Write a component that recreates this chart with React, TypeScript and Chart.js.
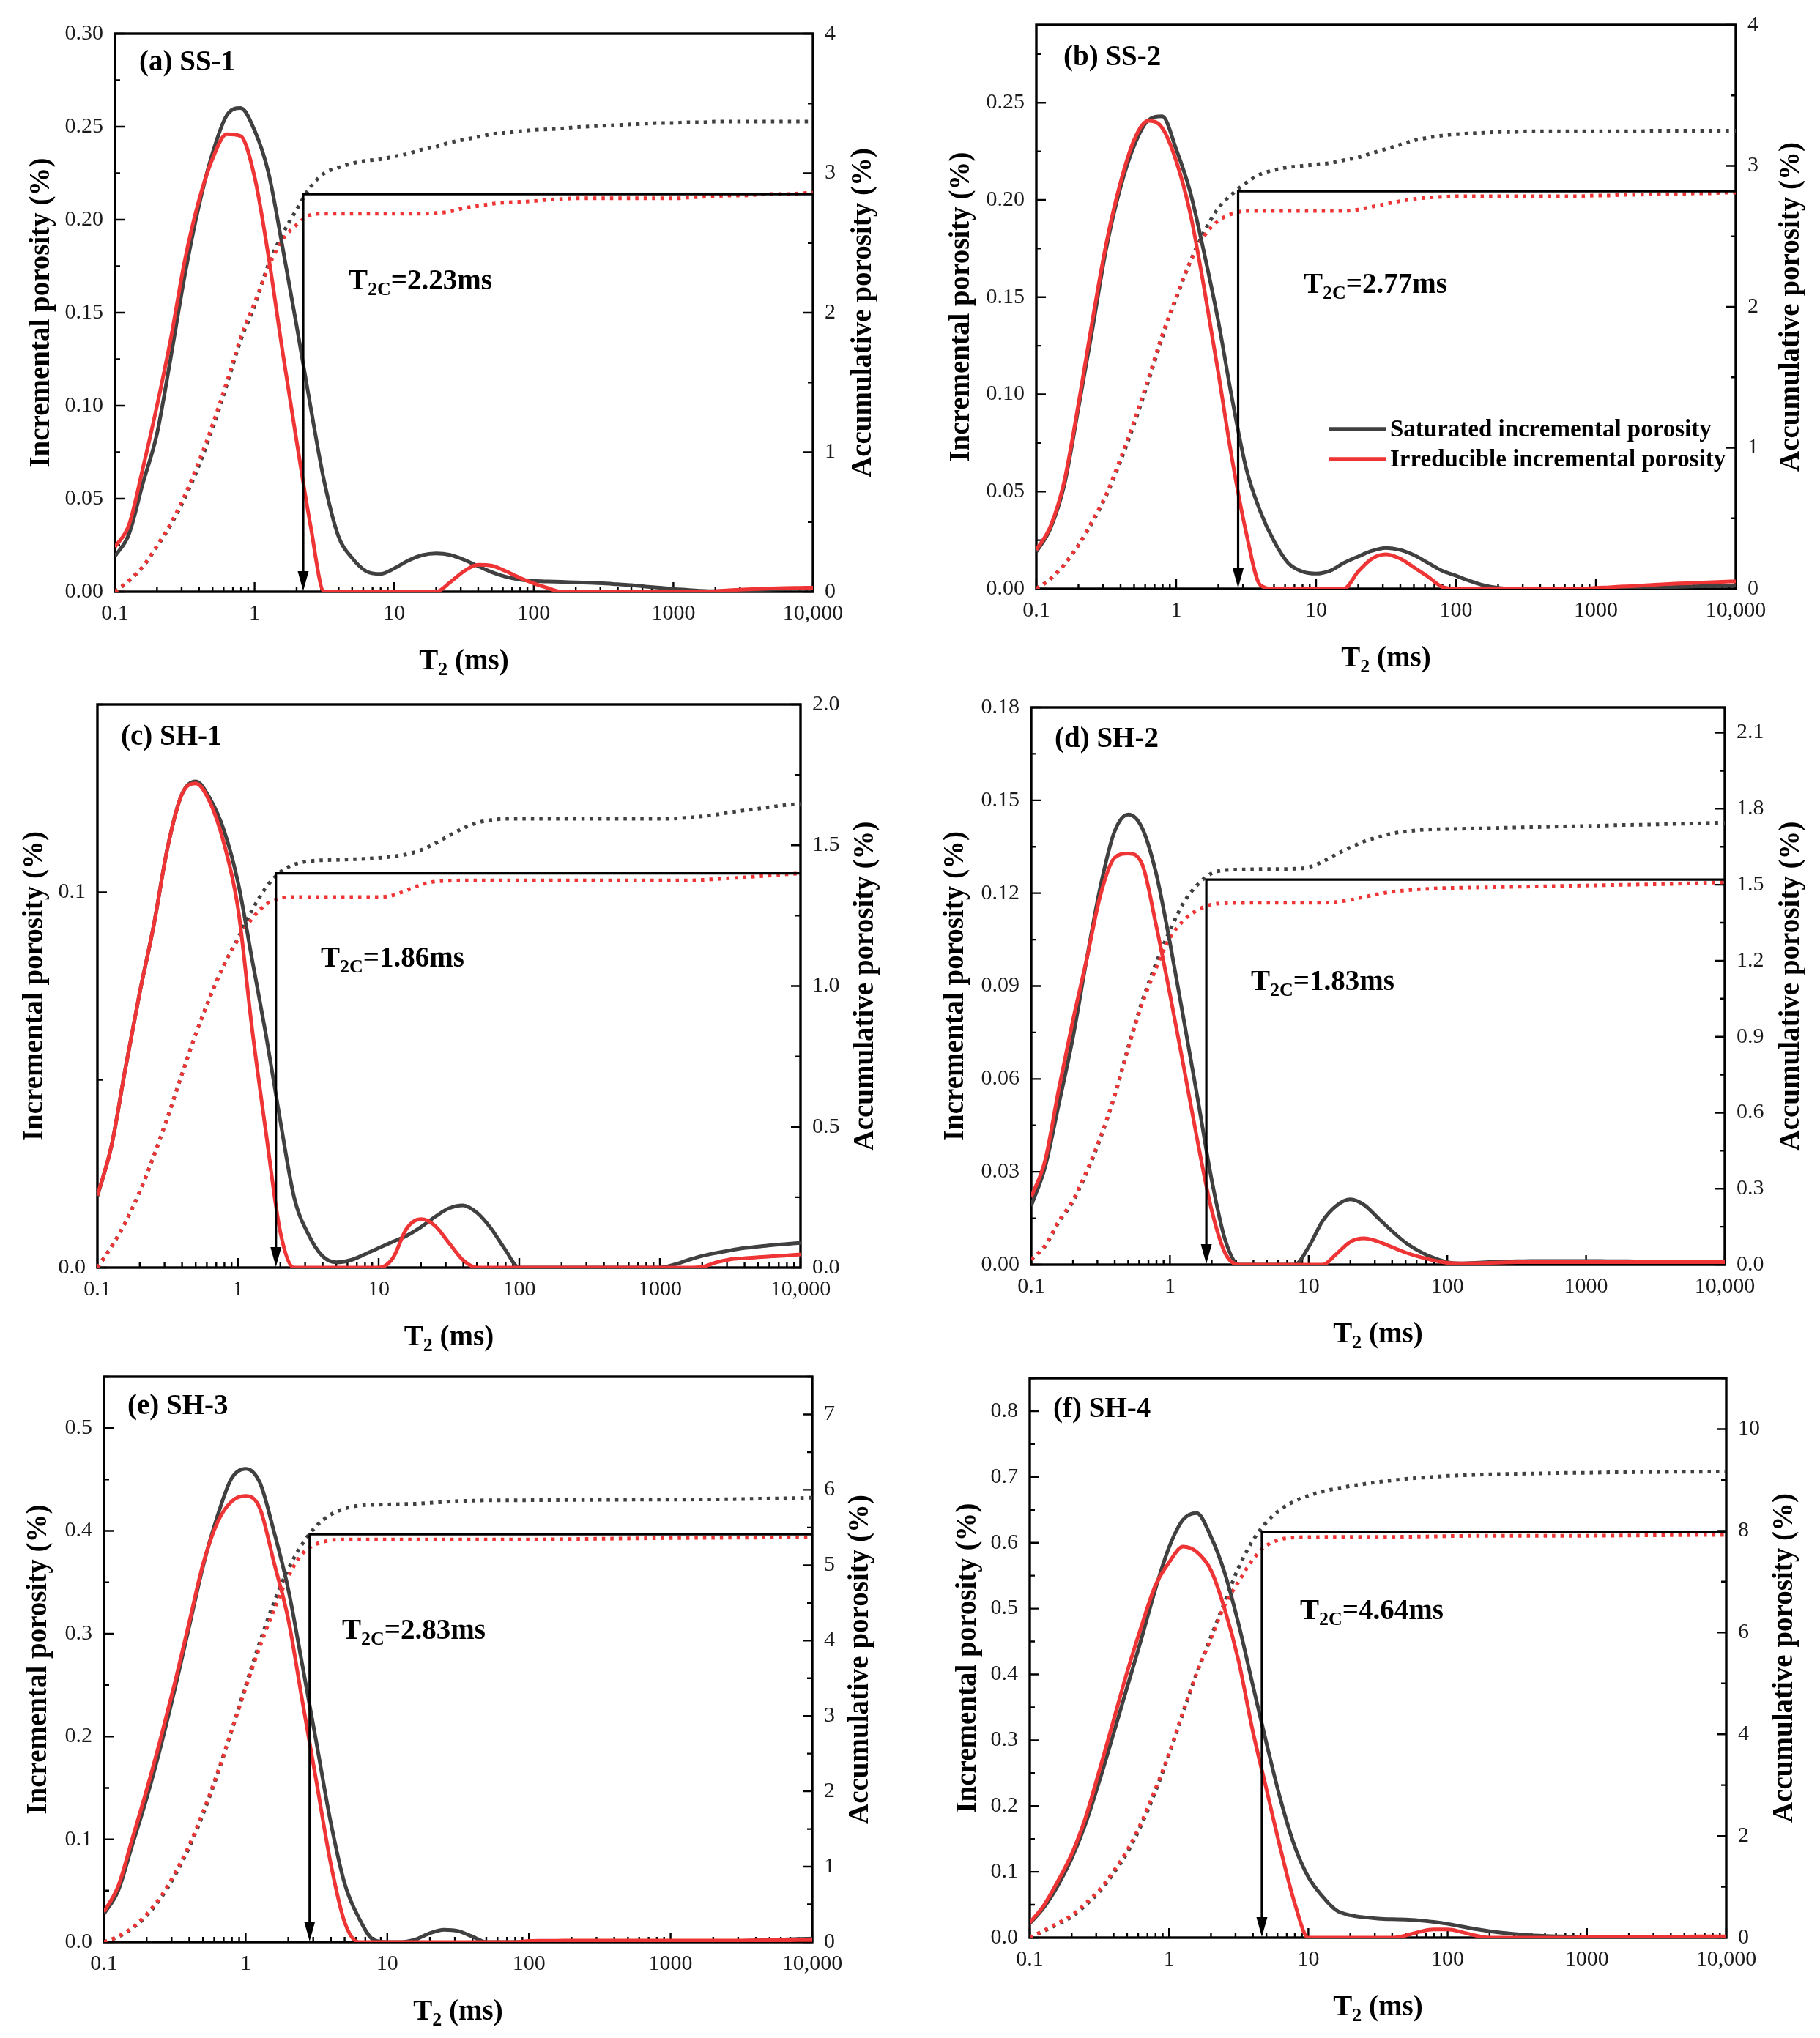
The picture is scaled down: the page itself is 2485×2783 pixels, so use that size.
import React, { useEffect, useRef } from "react";
import { Chart, registerables } from "chart.js";

Chart.register(...registerables);

const FONT = "'Liberation Serif', 'Times New Roman', Times, serif";
const DARK = "#404040";
const RED = "#ee3434";

// ---------------- data ----------------
const T2 = [0.1, 0.126, 0.158, 0.2, 0.251, 0.316, 0.398, 0.501, 0.631, 0.794, 1, 1.26, 1.58, 2, 2.51, 3.16, 3.98, 5.01, 6.31, 7.94, 10, 12.6, 15.8, 20, 25.1, 31.6, 39.8, 50.1, 63.1, 79.4, 100, 126, 158, 200, 251, 316, 398, 501, 631, 794, 1000, 1259, 1585, 1995, 2512, 3162, 3981, 5012, 6310, 7943, 10000];

const X_TICKS = [0.1, 1, 10, 100, 1000, 10000];
const X_TICK_LABELS = ["0.1", "1", "10", "100", "1000", "10,000"];

// (a) SS-1
const ss1SatInc = [0.019, 0.031, 0.058, 0.085, 0.126, 0.170, 0.207, 0.236, 0.256, 0.260, 0.248, 0.225, 0.186, 0.143, 0.100, 0.059, 0.030, 0.018, 0.011, 0.0095, 0.0125, 0.0167, 0.0196, 0.0206, 0.0198, 0.0172, 0.0138, 0.0105, 0.008, 0.0065, 0.0058, 0.0055, 0.0053, 0.005, 0.0048, 0.0045, 0.004, 0.0035, 0.0028, 0.0022, 0.0015, 0.001, 0.0005, 0.0003, 0.0005, 0.0008, 0.001, 0.0012, 0.0014, 0.0016, 0.0018];
const ss1IrrInc = [0.024, 0.036, 0.066, 0.1, 0.136, 0.178, 0.21, 0.233, 0.246, 0.245, 0.223, 0.18, 0.13, 0.081, 0.036, 0, 0, 0, 0, 0, 0, 0, 0, 0, 0.005, 0.011, 0.0145, 0.014, 0.011, 0.0075, 0.0045, 0.002, 0, 0, 0, 0, 0, 0, 0, 0, 0, 0, 0, 0.0003, 0.0008, 0.0012, 0.0015, 0.0018, 0.002, 0.0021, 0.0022];
const ss1SatCum = [0, 0.078, 0.178, 0.323, 0.48, 0.67, 0.9, 1.17, 1.48, 1.8, 2.05, 2.35, 2.56, 2.74, 2.9, 3.0, 3.04, 3.07, 3.09, 3.1, 3.12, 3.14, 3.17, 3.19, 3.22, 3.24, 3.26, 3.28, 3.29, 3.3, 3.31, 3.315, 3.32, 3.33, 3.335, 3.34, 3.345, 3.35, 3.355, 3.36, 3.36, 3.365, 3.365, 3.37, 3.37, 3.37, 3.37, 3.37, 3.37, 3.37, 3.37];
const ss1IrrCum = [0, 0.08, 0.18, 0.33, 0.49, 0.69, 0.93, 1.2, 1.5, 1.82, 2.07, 2.33, 2.52, 2.63, 2.7, 2.71, 2.71, 2.71, 2.71, 2.71, 2.71, 2.71, 2.71, 2.715, 2.725, 2.75, 2.765, 2.78, 2.79, 2.795, 2.8, 2.81, 2.815, 2.82, 2.82, 2.82, 2.82, 2.82, 2.82, 2.82, 2.82, 2.825, 2.83, 2.835, 2.84, 2.84, 2.845, 2.85, 2.85, 2.855, 2.86];

// (b) SS-2
const ss2SatInc = [0.019, 0.031, 0.053, 0.093, 0.133, 0.175, 0.206, 0.228, 0.241, 0.243, 0.226, 0.204, 0.173, 0.1375, 0.0976, 0.062, 0.040, 0.0244, 0.0133, 0.0089, 0.0078, 0.0093, 0.0133, 0.0166, 0.0195, 0.021, 0.020, 0.0173, 0.0133, 0.0093, 0.0067, 0.004, 0.0018, 0.0005, 0, 0, 0, 0, 0, 0, 0, 0, 0.0003, 0.0005, 0.0007, 0.0008, 0.001, 0.0012, 0.0014, 0.0015, 0.0017];
const ss2IrrInc = [0.02, 0.032, 0.055, 0.095, 0.1375, 0.1775, 0.2085, 0.231, 0.2407, 0.237, 0.22, 0.193, 0.155, 0.111, 0.0665, 0.029, 0.002, 0, 0, 0, 0, 0, 0, 0.0089, 0.0155, 0.0177, 0.0155, 0.011, 0.0062, 0.001, 0, 0, 0, 0, 0, 0, 0, 0, 0, 0, 0.0005, 0.0008, 0.0012, 0.0015, 0.002, 0.0024, 0.0027, 0.003, 0.0033, 0.0036, 0.0038];
const ss2SatCum = [0, 0.07, 0.17, 0.31, 0.47, 0.66, 0.9, 1.17, 1.47, 1.78, 2.06, 2.32, 2.53, 2.7, 2.8, 2.88, 2.94, 2.97, 2.99, 3.0, 3.01, 3.02, 3.04, 3.06, 3.09, 3.12, 3.15, 3.18, 3.2, 3.215, 3.225, 3.23, 3.235, 3.24, 3.24, 3.245, 3.245, 3.245, 3.245, 3.245, 3.245, 3.245, 3.245, 3.245, 3.25, 3.25, 3.25, 3.25, 3.25, 3.25, 3.25];
const ss2IrrCum = [0, 0.07, 0.17, 0.31, 0.48, 0.67, 0.92, 1.19, 1.49, 1.8, 2.07, 2.32, 2.5, 2.61, 2.66, 2.68, 2.68, 2.68, 2.68, 2.68, 2.68, 2.68, 2.68, 2.69, 2.71, 2.73, 2.75, 2.765, 2.775, 2.78, 2.785, 2.785, 2.785, 2.785, 2.785, 2.785, 2.785, 2.785, 2.785, 2.785, 2.79, 2.79, 2.795, 2.795, 2.8, 2.8, 2.8, 2.805, 2.805, 2.81, 2.81];

// (c) SH-1
const sh1SatInc = [0.019, 0.0325, 0.053, 0.0733, 0.091, 0.112, 0.126, 0.1295, 0.125, 0.1165, 0.1026, 0.082, 0.062, 0.039, 0.0186, 0.0089, 0.0031, 0.0014, 0.002, 0.0035, 0.0052, 0.0069, 0.0085, 0.0108, 0.0135, 0.0158, 0.0166, 0.0146, 0.0104, 0.0048, 0, 0, 0, 0, 0, 0, 0, 0, 0, 0, 0, 0.0008, 0.002, 0.0031, 0.0039, 0.0046, 0.0052, 0.0056, 0.006, 0.0063, 0.0066];
const sh1IrrInc = [0.0192, 0.0325, 0.053, 0.0733, 0.091, 0.112, 0.126, 0.129, 0.124, 0.113, 0.0957, 0.0635, 0.036, 0.0094, 0, 0, 0, 0, 0, 0, 0, 0.0025, 0.0104, 0.0129, 0.0112, 0.0066, 0.002, 0, 0, 0, 0, 0, 0, 0, 0, 0, 0, 0, 0, 0, 0, 0, 0, 0.0002, 0.0014, 0.0022, 0.0025, 0.0028, 0.003, 0.0032, 0.0035];
const sh1SatCum = [0, 0.075, 0.16, 0.27, 0.395, 0.535, 0.685, 0.83, 0.96, 1.075, 1.17, 1.27, 1.35, 1.405, 1.432, 1.443, 1.447, 1.448, 1.45, 1.452, 1.455, 1.46, 1.468, 1.483, 1.506, 1.534, 1.56, 1.58, 1.59, 1.594, 1.594, 1.594, 1.594, 1.594, 1.594, 1.594, 1.594, 1.594, 1.594, 1.594, 1.594, 1.595, 1.598, 1.603, 1.609, 1.617, 1.624, 1.63, 1.637, 1.643, 1.647];
const sh1IrrCum = [0, 0.075, 0.16, 0.27, 0.395, 0.535, 0.685, 0.83, 0.96, 1.075, 1.165, 1.24, 1.29, 1.312, 1.316, 1.316, 1.316, 1.316, 1.316, 1.316, 1.316, 1.322, 1.34, 1.36, 1.371, 1.374, 1.375, 1.375, 1.375, 1.375, 1.375, 1.375, 1.375, 1.375, 1.375, 1.375, 1.375, 1.375, 1.375, 1.375, 1.375, 1.375, 1.375, 1.377, 1.38, 1.383, 1.386, 1.39, 1.393, 1.397, 1.4];

// (d) SH-2
const sh2SatInc = [0.019, 0.0316, 0.0518, 0.0735, 0.0986, 0.1223, 0.1398, 0.1454, 0.141, 0.1265, 0.104, 0.079, 0.054, 0.0274, 0.0078, 0, 0, 0, 0, 0, 0.0057, 0.0141, 0.019, 0.0211, 0.0193, 0.0151, 0.0109, 0.0071, 0.0043, 0.0022, 0.0008, 0.0004, 0.0006, 0.0008, 0.001, 0.0011, 0.0012, 0.0012, 0.0012, 0.0012, 0.0012, 0.0012, 0.0011, 0.0011, 0.001, 0.001, 0.001, 0.0009, 0.0009, 0.0008, 0.0008];
const sh2IrrInc = [0.0218, 0.0337, 0.0567, 0.079, 0.0986, 0.1195, 0.1314, 0.1328, 0.1293, 0.1098, 0.0874, 0.0637, 0.040, 0.0176, 0.0036, 0, 0, 0, 0, 0, 0, 0, 0.0034, 0.0074, 0.0085, 0.0075, 0.0057, 0.0039, 0.0025, 0.0014, 0.0006, 0.0004, 0.0005, 0.0006, 0.0007, 0.0008, 0.0008, 0.0008, 0.0008, 0.0008, 0.0008, 0.0008, 0.0008, 0.0008, 0.0008, 0.0008, 0.0008, 0.0008, 0.0008, 0.0008, 0.0008];
const sh2SatCum = [0.02, 0.074, 0.168, 0.25, 0.364, 0.5, 0.665, 0.86, 1.04, 1.19, 1.32, 1.43, 1.5, 1.545, 1.558, 1.56, 1.561, 1.562, 1.562, 1.563, 1.569, 1.591, 1.62, 1.647, 1.671, 1.688, 1.702, 1.71, 1.716, 1.719, 1.72, 1.721, 1.722, 1.723, 1.725, 1.726, 1.727, 1.728, 1.73, 1.731, 1.732, 1.733, 1.735, 1.736, 1.737, 1.738, 1.74, 1.741, 1.742, 1.744, 1.745];
const sh2IrrCum = [0.02, 0.076, 0.172, 0.255, 0.37, 0.505, 0.665, 0.855, 1.03, 1.17, 1.29, 1.36, 1.4, 1.422, 1.427, 1.428, 1.429, 1.429, 1.429, 1.429, 1.429, 1.429, 1.432, 1.44, 1.452, 1.463, 1.472, 1.478, 1.482, 1.485, 1.487, 1.488, 1.489, 1.49, 1.491, 1.492, 1.493, 1.494, 1.495, 1.496, 1.497, 1.498, 1.499, 1.5, 1.501, 1.502, 1.503, 1.505, 1.506, 1.508, 1.51];

// (e) SH-3
const sh3SatInc = [0.0274, 0.050, 0.094, 0.14, 0.19, 0.246, 0.306, 0.366, 0.414, 0.451, 0.4605, 0.447, 0.40, 0.343, 0.27, 0.194, 0.117, 0.0565, 0.0233, 0.0025, 0, 0, 0.0025, 0.0087, 0.012, 0.0108, 0.0054, 0, 0, 0, 0, 0, 0, 0, 0, 0, 0, 0, 0, 0, 0, 0, 0, 0, 0.0005, 0.001, 0.0015, 0.002, 0.0025, 0.003, 0.0033];
const sh3IrrInc = [0.0295, 0.0544, 0.100, 0.148, 0.198, 0.252, 0.31, 0.368, 0.408, 0.4285, 0.434, 0.422, 0.370, 0.314, 0.235, 0.156, 0.077, 0.019, 0, 0, 0, 0, 0, 0, 0, 0, 0, 0, 0, 0, 0.001, 0.0012, 0.0013, 0.0014, 0.0015, 0.0015, 0.0015, 0.0015, 0.0015, 0.0015, 0.0015, 0.0015, 0.0015, 0.0015, 0.0015, 0.0015, 0.0016, 0.0017, 0.0018, 0.0019, 0.002];
const sh3SatCum = [0, 0.07, 0.18, 0.35, 0.58, 0.88, 1.25, 1.7, 2.22, 2.8, 3.4, 3.98, 4.5, 4.95, 5.28, 5.52, 5.67, 5.75, 5.79, 5.8, 5.805, 5.81, 5.815, 5.827, 5.838, 5.85, 5.855, 5.86, 5.86, 5.861, 5.862, 5.863, 5.864, 5.865, 5.866, 5.867, 5.868, 5.869, 5.87, 5.87, 5.87, 5.871, 5.872, 5.873, 5.875, 5.878, 5.881, 5.884, 5.887, 5.89, 5.895];
const sh3IrrCum = [0, 0.075, 0.19, 0.37, 0.6, 0.91, 1.28, 1.73, 2.24, 2.8, 3.37, 3.92, 4.4, 4.85, 5.15, 5.28, 5.33, 5.34, 5.34, 5.34, 5.34, 5.34, 5.34, 5.34, 5.34, 5.34, 5.34, 5.34, 5.34, 5.34, 5.34, 5.342, 5.344, 5.346, 5.348, 5.35, 5.352, 5.354, 5.356, 5.358, 5.36, 5.361, 5.362, 5.363, 5.364, 5.365, 5.366, 5.367, 5.368, 5.369, 5.37];

// (f) SH-4
const sh4SatInc = [0.0215, 0.0456, 0.078, 0.1205, 0.1726, 0.238, 0.309, 0.381, 0.453, 0.528, 0.593, 0.635, 0.645, 0.609, 0.554, 0.476, 0.385, 0.295, 0.21, 0.14, 0.092, 0.063, 0.042, 0.034, 0.031, 0.029, 0.028, 0.0275, 0.026, 0.024, 0.021, 0.017, 0.013, 0.0098, 0.0072, 0.0052, 0.0035, 0.0026, 0.002, 0.0015, 0.001, 0.001, 0.001, 0.001, 0.001, 0.001, 0.001, 0.001, 0.001, 0.001, 0.001];
const sh4IrrInc = [0.0228, 0.0489, 0.0847, 0.127, 0.182, 0.254, 0.329, 0.404, 0.472, 0.534, 0.570, 0.594, 0.586, 0.558, 0.499, 0.42, 0.315, 0.225, 0.135, 0.054, 0, 0, 0, 0, 0, 0, 0, 0.0033, 0.009, 0.0124, 0.0124, 0.0085, 0.0033, 0, 0, 0, 0, 0, 0, 0, 0.001, 0.001, 0.0012, 0.0014, 0.0015, 0.0016, 0.0017, 0.0018, 0.0019, 0.002, 0.002];
const sh4SatCum = [0, 0.13, 0.26, 0.41, 0.635, 0.9, 1.26, 1.67, 2.21, 2.86, 3.6, 4.42, 5.2, 5.92, 6.6, 7.28, 7.8, 8.17, 8.42, 8.58, 8.69, 8.77, 8.83, 8.88, 8.92, 8.96, 8.99, 9.02, 9.04, 9.06, 9.08, 9.09, 9.1, 9.11, 9.115, 9.12, 9.125, 9.13, 9.135, 9.14, 9.14, 9.145, 9.15, 9.15, 9.155, 9.155, 9.16, 9.16, 9.16, 9.165, 9.165];
const sh4IrrCum = [0, 0.14, 0.28, 0.44, 0.67, 0.94, 1.3, 1.72, 2.26, 2.91, 3.62, 4.44, 5.2, 5.88, 6.54, 7.0, 7.43, 7.71, 7.83, 7.87, 7.875, 7.878, 7.88, 7.88, 7.88, 7.88, 7.88, 7.882, 7.886, 7.89, 7.895, 7.898, 7.9, 7.9, 7.9, 7.9, 7.9, 7.9, 7.9, 7.9, 7.902, 7.904, 7.906, 7.908, 7.91, 7.912, 7.914, 7.916, 7.918, 7.92, 7.92];

const PANEL_LABELS = ["(a) SS-1", "(b) SS-2", "(c) SH-1", "(d) SH-2", "(e) SH-3", "(f) SH-4"];
const T2C_VALUES = [2.23, 2.77, 1.86, 1.83, 2.83, 4.64];
const T2C_TEXTS = ["=2.23ms", "=2.77ms", "=1.86ms", "=1.83ms", "=2.83ms", "=4.64ms"];
const T2C_LEVELS = [2.85, 2.82, 1.40, 1.52, 5.41, 7.98];
const LEFT_MAX = [0.30, 0.29, 0.15, 0.18, 0.55, 0.85];
const LEFT_STEP = [0.05, 0.05, 0.1, 0.03, 0.1, 0.1];
const LEFT_DEC = [2, 2, 1, 2, 1, 1];
const RIGHT_MAX = [4, 4, 2.0, 2.2, 7.5, 11];
const RIGHT_STEP = [1, 1, 0.5, 0.3, 1, 2];
const RIGHT_DEC = [0, 0, 1, 1, 0, 0];
const LEGEND_LABELS = ["Saturated incremental porosity", "Irreducible incremental porosity"];

const SAT_INC = [ss1SatInc, ss2SatInc, sh1SatInc, sh2SatInc, sh3SatInc, sh4SatInc];
const IRR_INC = [ss1IrrInc, ss2IrrInc, sh1IrrInc, sh2IrrInc, sh3IrrInc, sh4IrrInc];
const SAT_CUM = [ss1SatCum, ss2SatCum, sh1SatCum, sh2SatCum, sh3SatCum, sh4SatCum];
const IRR_CUM = [ss1IrrCum, ss2IrrCum, sh1IrrCum, sh2IrrCum, sh3IrrCum, sh4IrrCum];

// ---------------- layout (page pixels) ----------------
type Lay = {
  L: number; T: number; R: number; B: number;
  lab: [number, number]; t2c: [number, number];
  lt: number; rt: number; legend: boolean;
};
const LAYOUT: Lay[] = [
  { L: 157, T: 42, R: 1110, B: 808, lab: [33, 40], t2c: [319, 336], lt: 100, rt: 69, legend: false },
  { L: 1415, T: 30, R: 2370, B: 804, lab: [37, 45], t2c: [365, 353], lt: 102, rt: 76, legend: true },
  { L: 133, T: 958, R: 1093, B: 1731, lab: [32, 45], t2c: [305, 345], lt: 85, rt: 89, legend: false },
  { L: 1408, T: 962, R: 2355, B: 1727, lab: [32, 44], t2c: [300, 373], lt: 103, rt: 91, legend: false },
  { L: 142, T: 1876, R: 1109, B: 2652, lab: [32, 41], t2c: [325, 345], lt: 89, rt: 66, legend: false },
  { L: 1406, T: 1878, R: 2357, B: 2646, lab: [32, 43], t2c: [369, 316], lt: 84, rt: 80, legend: false },
];
const PADL = 150, PADR = 130, PADT = 30, PADB = 140;

type Part = { t: string; sub?: boolean };
function drawRich(ctx: CanvasRenderingContext2D, parts: Part[], x: number, cy: number, size: number, center: boolean) {
  const main = `bold ${size}px ${FONT}`;
  const subSize = Math.round(size * 0.66);
  const sub = `bold ${subSize}px ${FONT}`;
  let w = 0;
  for (const p of parts) { ctx.font = p.sub ? sub : main; w += ctx.measureText(p.t).width; }
  let cx = center ? x - w / 2 : x;
  const base = cy + size * 0.33;
  ctx.textAlign = "left";
  ctx.textBaseline = "alphabetic";
  for (const p of parts) {
    ctx.font = p.sub ? sub : main;
    ctx.fillText(p.t, cx, p.sub ? base + size * 0.22 : base);
    cx += ctx.measureText(p.t).width;
  }
}

function makePlugin(i: number) {
  const lay = LAYOUT[i];
  return {
    id: "decor" + i,
    beforeDatasetsDraw(chart: any) {
      const { ctx, chartArea: a, scales } = chart;
      const x = scales.x, yl = scales.y, yr = scales.y1;
      ctx.save();
      ctx.strokeStyle = "#000";
      ctx.lineWidth = 2.4;
      ctx.beginPath();
      for (let d = -1; d <= 4; d++) {
        for (let m = 1; m <= 9; m++) {
          const v = m * Math.pow(10, d);
          if (v > 10000.5) break;
          const px = x.getPixelForValue(v);
          const len = m === 1 ? 13 : 7;
          ctx.moveTo(px, a.bottom);
          ctx.lineTo(px, a.bottom - len);
        }
      }
      const lm = LEFT_STEP[i] / 2;
      const ln = Math.floor(LEFT_MAX[i] / lm + 1e-6);
      for (let k = 0; k <= ln; k++) {
        const py = yl.getPixelForValue(k * lm);
        const len = k % 2 === 0 ? 13 : 7;
        ctx.moveTo(a.left, py);
        ctx.lineTo(a.left + len, py);
      }
      const rm = RIGHT_STEP[i] / 2;
      const rn = Math.floor(RIGHT_MAX[i] / rm + 1e-6);
      for (let k = 0; k <= rn; k++) {
        const py = yr.getPixelForValue(k * rm);
        const len = k % 2 === 0 ? 13 : 7;
        ctx.moveTo(a.right, py);
        ctx.lineTo(a.right - len, py);
      }
      ctx.stroke();
      ctx.lineWidth = 3.4;
      ctx.strokeRect(a.left, a.top, a.right - a.left, a.bottom - a.top);
      ctx.restore();
    },
    afterDatasetsDraw(chart: any) {
      const { ctx, chartArea: a, scales } = chart;
      const x = scales.x, yr = scales.y1;
      ctx.save();
      // T2C cutoff lines
      const xs = x.getPixelForValue(T2C_VALUES[i]);
      const ys = yr.getPixelForValue(T2C_LEVELS[i]);
      ctx.strokeStyle = "#000";
      ctx.lineWidth = 3.2;
      ctx.beginPath();
      ctx.moveTo(xs - 1.6, ys);
      ctx.lineTo(a.right, ys);
      ctx.moveTo(xs, ys - 1.6);
      ctx.lineTo(xs, a.bottom - 24);
      ctx.stroke();
      ctx.fillStyle = "#000";
      ctx.beginPath();
      ctx.moveTo(xs - 7.5, a.bottom - 28);
      ctx.lineTo(xs + 7.5, a.bottom - 28);
      ctx.lineTo(xs, a.bottom - 1);
      ctx.closePath();
      ctx.fill();

      // panel label
      ctx.font = `bold 39px ${FONT}`;
      ctx.textAlign = "left";
      ctx.textBaseline = "middle";
      ctx.fillText(PANEL_LABELS[i], a.left + lay.lab[0], a.top + lay.lab[1]);

      // T2C text
      drawRich(ctx, [{ t: "T" }, { t: "2C", sub: true }, { t: T2C_TEXTS[i] }], a.left + lay.t2c[0], a.top + lay.t2c[1], 39, false);

      // legend
      if (lay.legend) {
        const rows = [DARK, RED];
        rows.forEach((c, r) => {
          const yy = a.top + 552 + r * 41;
          ctx.strokeStyle = c;
          ctx.lineWidth = 5.5;
          ctx.beginPath();
          ctx.moveTo(a.left + 399, yy);
          ctx.lineTo(a.left + 477, yy);
          ctx.stroke();
          ctx.fillStyle = "#000";
          ctx.font = `bold 33px ${FONT}`;
          ctx.textAlign = "left";
          ctx.textBaseline = "middle";
          ctx.fillText(LEGEND_LABELS[r], a.left + 483, yy + 1);
        });
      }

      // axis titles
      ctx.fillStyle = "#000";
      drawRich(ctx, [{ t: "T" }, { t: "2", sub: true }, { t: " (ms)" }], (a.left + a.right) / 2, a.bottom + 93, 39, true);
      const cy = (a.top + a.bottom) / 2;
      ctx.font = `bold 39px ${FONT}`;
      ctx.textAlign = "center";
      ctx.textBaseline = "middle";
      ctx.save();
      ctx.translate(a.left - lay.lt, cy);
      ctx.rotate(-Math.PI / 2);
      ctx.fillText("Incremental porosity (%)", 0, 0);
      ctx.restore();
      ctx.save();
      ctx.translate(a.right + lay.rt, cy);
      ctx.rotate(-Math.PI / 2);
      ctx.fillText("Accumulative porosity (%)", 0, 0);
      ctx.restore();
      ctx.restore();
    },
  };
}

function pts(arr: number[]) {
  return T2.map((t, k) => ({ x: t, y: arr[k] }));
}

function PanelChart({ i }: { i: number }) {
  const ref = useRef<HTMLCanvasElement | null>(null);
  const lay = LAYOUT[i];
  const W = lay.R - lay.L + PADL + PADR;
  const H = lay.B - lay.T + PADT + PADB;
  useEffect(() => {
    const canvas = ref.current;
    if (!canvas) return;
    const tickFont = { family: FONT, size: 30 };
    const common = { pointRadius: 0, pointHoverRadius: 0, fill: false, cubicInterpolationMode: "monotone" as const };
    const chart = new Chart(canvas, {
      type: "line",
      data: {
        datasets: [
          { ...common, label: "irrInc", data: pts(IRR_INC[i]), borderColor: RED, borderWidth: 5, yAxisID: "y" },
          { ...common, label: "satInc", data: pts(SAT_INC[i]), borderColor: DARK, borderWidth: 5, yAxisID: "y" },
          { ...common, label: "irrCum", data: pts(IRR_CUM[i]), borderColor: RED, borderWidth: 5, borderDash: [4.5, 7], yAxisID: "y1" },
          { ...common, label: "satCum", data: pts(SAT_CUM[i]), borderColor: DARK, borderWidth: 5, borderDash: [4.5, 7], yAxisID: "y1" },
        ],
      },
      options: {
        responsive: false,
        animation: false,
        events: [],
        layout: { padding: { top: PADT, left: 0, right: 0, bottom: 0 } },
        plugins: { legend: { display: false }, tooltip: { enabled: false }, title: { display: false } },
        scales: {
          x: {
            type: "logarithmic",
            position: "bottom",
            min: 0.1,
            max: 10000,
            afterFit: (s: any) => { s.height = PADB; },
            afterBuildTicks: (s: any) => { s.ticks = X_TICKS.map((v) => ({ value: v })); },
            ticks: {
              autoSkip: false,
              maxRotation: 0,
              padding: 12,
              color: "#1a1a1a",
              font: tickFont,
              callback: (_v: any, idx: number) => X_TICK_LABELS[idx],
            },
            grid: { display: false, drawTicks: false },
            border: { display: false },
          },
          y: {
            type: "linear",
            position: "left",
            min: 0,
            max: LEFT_MAX[i],
            afterFit: (s: any) => { s.width = PADL; },
            ticks: {
              stepSize: LEFT_STEP[i],
              includeBounds: false,
              padding: 16,
              color: "#1a1a1a",
              font: tickFont,
              callback: (v: any) => Number(v).toFixed(LEFT_DEC[i]),
            },
            grid: { display: false, drawTicks: false },
            border: { display: false },
          },
          y1: {
            type: "linear",
            position: "right",
            min: 0,
            max: RIGHT_MAX[i],
            afterFit: (s: any) => { s.width = PADR; },
            ticks: {
              stepSize: RIGHT_STEP[i],
              includeBounds: false,
              padding: 16,
              color: "#1a1a1a",
              font: tickFont,
              callback: (v: any) => Number(v).toFixed(RIGHT_DEC[i]),
            },
            grid: { display: false, drawTicks: false },
            border: { display: false },
          },
        },
      } as any,
      plugins: [makePlugin(i)],
    });
    return () => chart.destroy();
  }, [i]);
  return (
    <canvas
      ref={ref}
      width={W}
      height={H}
      style={{ position: "absolute", left: lay.L - PADL, top: lay.T - PADT, width: W, height: H }}
    />
  );
}

export default function App() {
  useEffect(() => {
    document.body.style.margin = "0";
    document.body.style.background = "#fff";
  }, []);
  return (
    <div style={{ position: "relative", width: 2485, height: 2783, background: "#fff", overflow: "hidden" }}>
      {LAYOUT.map((_, i) => (
        <PanelChart key={i} i={i} />
      ))}
    </div>
  );
}
